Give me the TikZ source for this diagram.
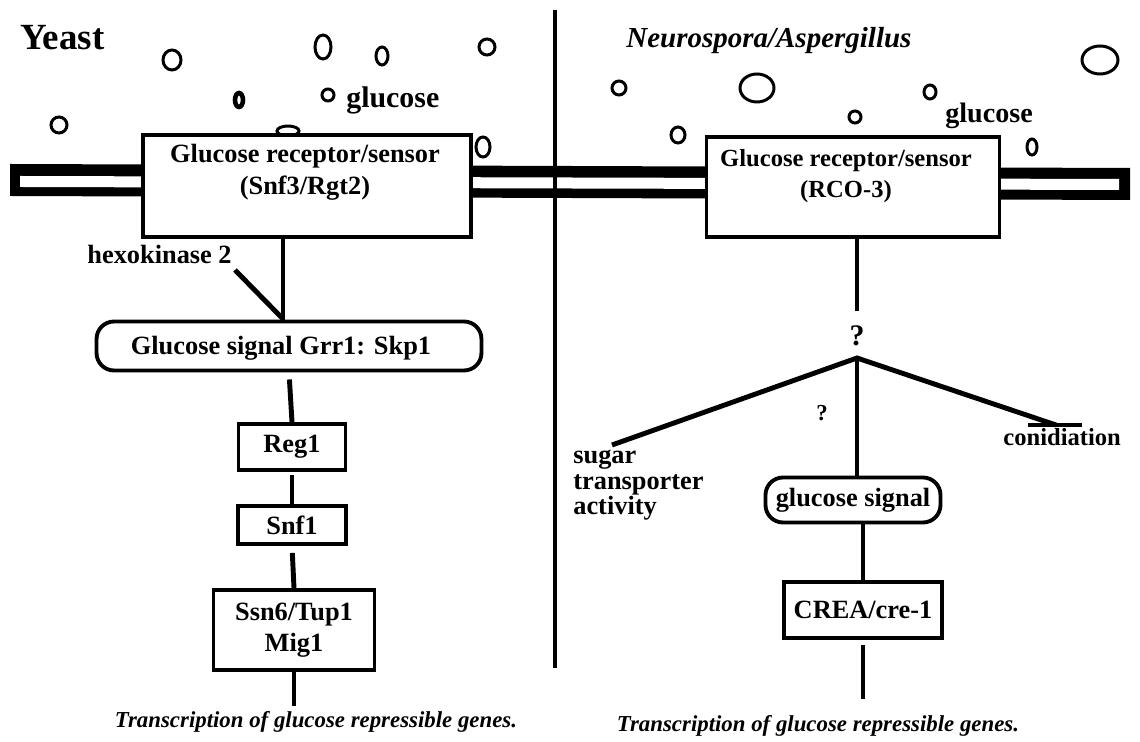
\documentclass[tikz,border=0pt]{standalone}
\usepackage{fontspec}
\setmainfont{Liberation Serif}
\usetikzlibrary{positioning}

\begin{document}
\begin{tikzpicture}[x=0.02cm, y=-0.02cm,
  box/.style   = {rectangle, draw, line width=2.2pt, fill=white, inner sep=0pt},
  rbox/.style  = {box, rounded corners=3.5mm},
  txt/.style   = {font=\fontsize{15}{18}\selectfont\bfseries, inner sep=0pt, align=center},
  head/.style  = {font=\fontsize{21}{24}\selectfont\bfseries, inner sep=0pt},
  outp/.style  = {font=\fontsize{13}{16}\selectfont\bfseries\itshape, inner sep=0pt},
  lnk/.style   = {line width=2.8pt},
  mol/.style   = {line width=1.7pt},
  ]

  \useasboundingbox[fill=white] (0,0) rectangle (1140,742);

  % membrane
  \fill (10,164) -- (1130,168) -- (1130,200) -- (10,196) -- cycle;
  \fill[white] (20,176) -- (1119,179) -- (1119,190) -- (20,187) -- cycle;

  % divider
  \coordinate (divT) at (555,10);
  \coordinate (divB) at (555,668);
  \draw[line width=2.4pt] (divT) -- (divB);

  % Yeast side
  \node[head, anchor=base west] (yst) at (20,50) {Yeast};
  \draw[mol] (172,60) ellipse [x radius=9, y radius=10];
  \draw[mol] (323,47) ellipse [x radius=8, y radius=12];
  \draw[mol] (382,56) ellipse [x radius=6, y radius=9];
  \draw[mol] (487,47) ellipse [x radius=8, y radius=8];
  \draw[line width=2.6pt] (239,100) ellipse [x radius=4, y radius=7];
  \draw[mol] (328,95) ellipse [x radius=6, y radius=6];
  \draw[mol] (59,125) ellipse [x radius=8, y radius=8];
  \draw[mol] (288,131) ellipse [x radius=11, y radius=5];
  \draw[mol] (483,147) ellipse [x radius=7, y radius=10];
  \node[txt, anchor=west, font=\fontsize{17}{20}\selectfont\bfseries] (glc1) at (346,100) {glucose};

  \node[box, minimum width=6.56cm, minimum height=2.04cm] (rec1) at (307,186) {};
  \node[txt] (rec1t) at (305,172) {Glucose receptor/sensor\\(Snf3/Rgt2)};
  \node[txt, anchor=east] (hxk) at (232,254) {hexokinase 2};
  \coordinate (hxS) at (235,270);
  \coordinate (hxE) at (283,319);

  \node[rbox, minimum width=7.7cm, minimum height=0.98cm] (sig1) at (289,346) {};
  \node[txt] (sig1t) at (281,348) {Glucose signal Grr1: Skp1};
  \node[box, minimum width=2.14cm, minimum height=0.92cm, txt] (reg1) at (292,447) {Reg1};
  \node[box, minimum width=2.16cm, minimum height=0.76cm, txt] (snf1) at (292,525) {Snf1};
  \node[box, minimum width=3.22cm, minimum height=1.6cm, txt] (ssn6) at (294,630) {Ssn6/Tup1\\Mig1};
  \node[outp] (tr1) at (316,722) {Transcription of glucose repressible genes.};

  \draw[lnk] (rec1.south -| hxE) -- (hxE |- sig1.north);
  \draw[lnk] (hxS) -- (hxE);
  \draw[lnk, shorten <=4pt] (sig1.south) -- (reg1.north);
  \draw[lnk, shorten <=2pt] (reg1.south) -- (snf1.north);
  \draw[lnk, shorten <=4pt] (snf1.south) -- (ssn6.north);
  \draw[lnk, shorten >=3pt] (ssn6.south) -- (tr1.north -| ssn6.south);

  % Neurospora / Aspergillus side
  \node[head, anchor=base west, font=\fontsize{16.5}{20}\selectfont\bfseries\itshape] (neu) at (626,48) {Neurospora/Aspergillus};
  \draw[mol] (1100,60) ellipse [x radius=18, y radius=14];
  \draw[mol] (619,88) ellipse [x radius=7, y radius=7];
  \draw[mol] (757,88) ellipse [x radius=17, y radius=14];
  \draw[mol] (930,92) ellipse [x radius=6, y radius=7];
  \draw[mol] (855,117) ellipse [x radius=6, y radius=6];
  \draw[mol] (678,135) ellipse [x radius=7, y radius=8];
  \draw[mol] (1032,147) ellipse [x radius=5, y radius=8];
  \node[txt, anchor=west, font=\fontsize{16}{19}\selectfont\bfseries] (glc2) at (945,116) {glucose};

  \node[box, minimum width=5.86cm, minimum height=2.0cm] (rec2) at (853,187) {};
  \node[txt, font=\fontsize{14}{18}\selectfont\bfseries] (rec2t) at (846,176) {Glucose receptor/sensor\\(RCO-3)};
  \node[txt, font=\fontsize{17}{20}\selectfont\bfseries] (qm) at (857,336) {?};
  \coordinate (apex) at (857,358);
  \coordinate (sugE) at (612,445);
  \coordinate (conE) at (1056,425);
  \node[txt, font=\fontsize{13}{15}\selectfont\bfseries] (qs) at (822,413) {?};
  \node[txt, anchor=north west, align=left, font=\fontsize{15}{14.5}\selectfont\bfseries] (sug) at (573,450) {sugar\\transporter\\activity};
  \node[txt, anchor=west, font=\fontsize{14}{17}\selectfont\bfseries] (con) at (1003,437) {conidiation};

  \node[rbox, minimum width=3.5cm, minimum height=0.9cm, txt] (sig2) at (853,500) {glucose signal};
  \node[box, minimum width=3.16cm, minimum height=1.12cm, txt] (crea) at (863,610) {CREA/cre-1};
  \node[outp] (tr2) at (818,726) {Transcription of glucose repressible genes.};

  \draw[lnk, shorten >=8pt] (rec2.south -| apex) -- (qm.north);
  \draw[lnk] (sugE) -- (apex) -- (conE);
  \draw[lnk] (conE) ++(-28,0) -- ++(54,0);
  \draw[lnk] (apex) -- (apex |- sig2.north);
  \draw[lnk] (sig2.south -| crea) -- (crea.north);
  \draw[lnk, shorten <=3pt, shorten >=9pt] (crea.south) -- (tr2.north -| crea.south);
\end{tikzpicture}
\end{document}
